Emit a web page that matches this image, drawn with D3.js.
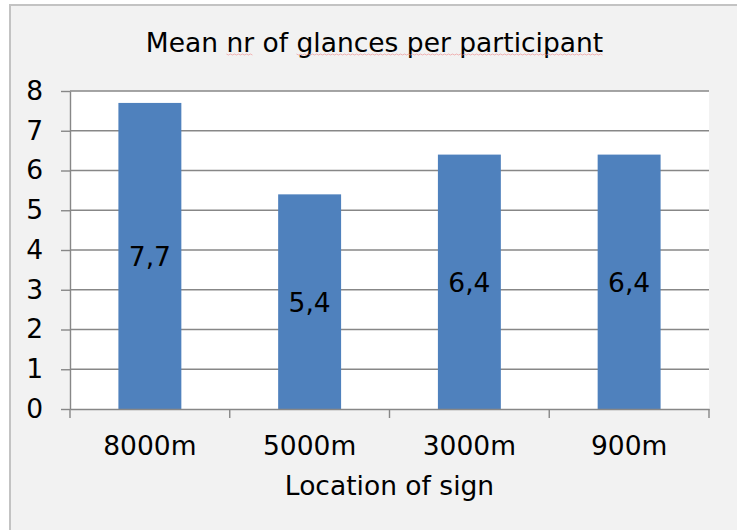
<!DOCTYPE html>
<html>
<head>
<meta charset="utf-8">
<script src="https://cdn.jsdelivr.net/npm/d3@7"></script>
<style>
  html, body { margin: 0; padding: 0; background: #ffffff; }
  svg { display: block; }
  text { font-family: Verdana, "DejaVu Sans", sans-serif; fill: #000; }
</style>
</head>
<body>
<svg id="chart" width="737" height="530"></svg>
<script>
// Chart data
const categories = ["8000m", "5000m", "3000m", "900m"];
const meanGlances = [7.7, 5.4, 6.4, 6.4];
const yTicks = [0, 1, 2, 3, 4, 5, 6, 7, 8];
const titleText = "Mean nr of glances per participant";
const xAxisTitle = "Location of sign";

const W = 737, H = 530;
const plot = { left: 70, right: 709, top: 91, bottom: 409 };
const gridColor = "#878787";
const barColor = "#4f81bd";
const fontSize = 26.5;

const svg = d3.select("#chart");

// chart area with its frame
svg.append("rect")
  .attr("x", 10).attr("y", 5)
  .attr("width", W + 20).attr("height", H + 20)
  .attr("fill", "#f2f2f2")
  .attr("stroke", "#c3c3c3").attr("stroke-width", 2);

// plot area
svg.append("rect")
  .attr("x", plot.left).attr("y", plot.top)
  .attr("width", plot.right - plot.left).attr("height", plot.bottom - plot.top)
  .attr("fill", "#ffffff");

const y = d3.scaleLinear().domain([0, 8]).range([plot.bottom, plot.top]);
const xCat = d3.scaleBand().domain(categories).range([plot.left, plot.right]).padding(0);
const xBar = d3.scaleBand().domain(categories).range([plot.left, plot.right])
  .paddingInner(0.606).paddingOuter(0.303);

// horizontal gridlines
svg.append("g").selectAll("line")
  .data(yTicks.filter(d => d > 0))
  .join("line")
  .attr("x1", plot.left).attr("x2", plot.right)
  .attr("y1", d => y(d)).attr("y2", d => y(d))
  .attr("stroke", gridColor).attr("stroke-width", 1.4);

// bars
svg.append("g").selectAll("rect")
  .data(categories.map((c, i) => ({ c, v: meanGlances[i] })))
  .join("rect")
  .attr("x", d => xBar(d.c))
  .attr("y", d => y(d.v))
  .attr("width", xBar.bandwidth())
  .attr("height", d => y(0) - y(d.v))
  .attr("fill", barColor);

// value labels centred in each bar
const fmt = v => d3.format(".1f")(v).replace(".", ",");
svg.append("g").selectAll("text")
  .data(categories.map((c, i) => ({ c, v: meanGlances[i] })))
  .join("text")
  .attr("x", d => xBar(d.c) + xBar.bandwidth() / 2)
  .attr("y", d => (y(d.v) + y(0)) / 2)
  .attr("dy", "0.38em")
  .attr("text-anchor", "middle")
  .attr("font-size", fontSize)
  .text(d => fmt(d.v));

// value axis
const yAxis = svg.append("g")
  .attr("transform", `translate(${plot.left},0)`)
  .call(d3.axisLeft(y).tickValues(yTicks).tickSize(9).tickSizeOuter(0).tickPadding(18));
yAxis.selectAll("line").attr("stroke", gridColor).attr("stroke-width", 1.4);
yAxis.select(".domain").attr("stroke", gridColor).attr("stroke-width", 1.4);
yAxis.selectAll("text")
  .attr("font-family", "Verdana, 'DejaVu Sans', sans-serif")
  .attr("font-size", fontSize).attr("fill", "#000");

// category axis: labels at band centres, tick marks at band edges
const xAxis = svg.append("g")
  .attr("transform", `translate(0,${plot.bottom})`)
  .call(d3.axisBottom(xCat).tickSize(0).tickSizeOuter(0).tickPadding(27));
xAxis.select(".domain").attr("stroke", gridColor).attr("stroke-width", 1.4);
xAxis.selectAll("text")
  .attr("font-family", "Verdana, 'DejaVu Sans', sans-serif")
  .attr("font-size", fontSize).attr("fill", "#000");

const edges = categories.map(c => xCat(c)).concat([xCat(categories[categories.length - 1]) + xCat.bandwidth()]);
svg.append("g").selectAll("line")
  .data(edges)
  .join("line")
  .attr("x1", d => d).attr("x2", d => d)
  .attr("y1", plot.bottom).attr("y2", plot.bottom + 9)
  .attr("stroke", gridColor).attr("stroke-width", 1.4);

// axis title
svg.append("text")
  .attr("x", (plot.left + plot.right) / 2)
  .attr("y", 495)
  .attr("text-anchor", "middle")
  .attr("font-size", fontSize)
  .text(xAxisTitle);

// chart title
const title = svg.append("text")
  .attr("x", (plot.left + plot.right) / 2 - 15)
  .attr("y", 52)
  .attr("text-anchor", "middle")
  .attr("font-size", fontSize)
  .text(titleText);

// proofing squiggles under the flagged words of the title
const node = title.node();
const flagged = [[5, 7], [11, titleText.length]];
const squiggle = svg.append("g")
  .attr("fill", "none")
  .attr("stroke", "#f08a8a")
  .attr("stroke-width", 1)
  .attr("opacity", 0.6);
flagged.forEach(([a, b]) => {
  const x0 = node.getStartPositionOfChar(a).x;
  const x1 = node.getEndPositionOfChar(b - 1).x;
  const pts = [];
  for (let x = x0, k = 0; x <= x1; x += 2, k++) pts.push([x, 54 + (k % 2 ? 1 : 0)]);
  squiggle.append("path").attr("d", d3.line()(pts));
});
</script>
</body>
</html>
